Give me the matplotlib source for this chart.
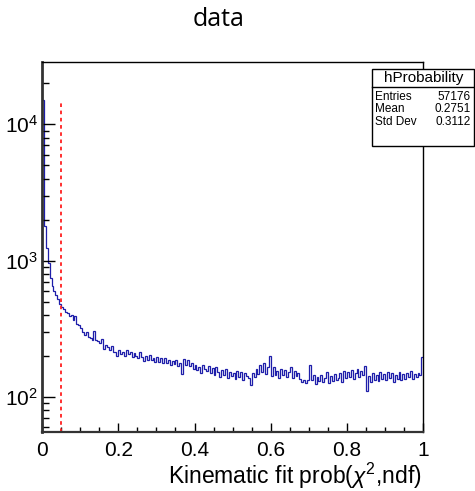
import numpy as np
import matplotlib
matplotlib.use("Agg")
import matplotlib.pyplot as plt
from matplotlib.ticker import LogLocator, LogFormatterMathtext, MultipleLocator
from matplotlib.patches import Rectangle

# ---- data (200 bins over [0, 1]) ----
x_min, x_max, n_bins = 0.0, 1.0, 200
counts = [
    15000, 1800, 1240, 960, 740, 650, 600, 560, 520, 480,
    455, 440, 420, 410, 395, 400, 365, 390, 345, 335,
    320, 300, 285, 300, 275, 272, 262, 305, 262, 258,
    250, 266, 225, 242, 232, 222, 236, 212, 214, 200,
    222, 205, 215, 198, 220, 206, 212, 196, 210, 200,
    192, 214, 196, 182, 198, 188, 204, 186, 194, 180,
    196, 180, 192, 176, 194, 178, 186, 170, 184, 174,
    188, 168, 178, 148, 190, 172, 186, 168, 176, 160,
    170, 158, 166, 150, 172, 160, 155, 168, 150, 162,
    145, 166, 152, 140, 158, 146, 160, 138, 152, 142,
    150, 136, 156, 140, 152, 134, 150, 142, 138, 122,
    150, 140, 160, 148, 170, 152, 178, 148, 165, 200,
    142, 165, 146, 155, 138, 160, 144, 158, 140, 152,
    166, 138, 156, 142, 150, 136, 128, 134, 126, 132,
    172, 132, 145, 124, 140, 130, 144, 128, 138, 152,
    126, 142, 130, 148, 132, 138, 150, 128, 156, 138,
    152, 140, 158, 136, 150, 160, 140, 154, 144, 168,
    110, 142, 128, 150, 134, 146, 130, 152, 136, 148,
    134, 152, 138, 150, 128, 146, 136, 152, 132, 148,
    136, 150, 140, 154, 136, 148, 140, 150, 146, 196,
]
cut_value = 0.05
title = "data"
xlabel = r"Kinematic fit prob($\chi^{2}$,ndf)"
stats_name = "hProbability"
stats_rows = [("Entries", "57176"), ("Mean", "0.2751"), ("Std Dev", "0.3112")]
x_ticks = [0, 0.2, 0.4, 0.6, 0.8, 1]
x_tick_labels = ["0", "0.2", "0.4", "0.6", "0.8", "1"]
y_limits = (55, 28500)

plt.rcParams["font.family"] = ["Liberation Sans", "DejaVu Sans"]
plt.rcParams["mathtext.fontset"] = "custom"
plt.rcParams["mathtext.rm"] = "Liberation Sans"
plt.rcParams["mathtext.it"] = "Liberation Sans:italic"

W, H = 475, 491
fig = plt.figure(figsize=(W / 100, H / 100), dpi=100)
ax = fig.add_axes([42 / W, 1 - 432.3 / H, (423.3 - 42) / W, (432.3 - 62.3) / H])

edges = np.linspace(x_min, x_max, n_bins + 1)
vals = np.array(counts, dtype=float)
ax.stairs(vals, edges, baseline=None, color="#1e1eaa", lw=0.9)
ax.vlines(cut_value, y_limits[0], vals.max(), colors="#ff2020",
          linestyles=(0, (2, 2)), lw=1.3)

ax.set_yscale("log")
ax.set_xlim(x_min, x_max)
ax.set_ylim(*y_limits)
ax.yaxis.set_major_locator(LogLocator(base=10))
ax.yaxis.set_major_formatter(LogFormatterMathtext())
ax.yaxis.set_minor_locator(LogLocator(base=10, subs=np.arange(2, 10)))
ax.yaxis.set_minor_formatter(plt.NullFormatter())
ax.set_xticks(x_ticks)
ax.set_xticklabels(x_tick_labels)
ax.xaxis.set_minor_locator(MultipleLocator(0.05))

ax.tick_params(which="both", direction="in", top=False, right=False)
ax.tick_params(axis="x", which="major", length=6.5, width=1.0, labelsize=15, pad=6)
ax.tick_params(axis="x", which="minor", length=3.6, width=1.0)
ax.tick_params(axis="y", which="major", length=9.5, width=1.0, labelsize=15, pad=3)
ax.tick_params(axis="y", which="minor", length=4.7, width=1.0)

for s in ("top", "right"):
    ax.spines[s].set_linewidth(1.0)
    ax.spines[s].set_color("black")
ax.spines["left"].set_linewidth(2.0)
ax.spines["left"].set_color("#333333")
ax.spines["bottom"].set_linewidth(1.6)
ax.spines["bottom"].set_color("#333333")

fig.text(219 / W, 1 - 20 / H, title, ha="center", va="center",
         family=["Open Sans", "DejaVu Sans"], fontsize=18)
fig.text(422 / W, 1 - 476 / H, xlabel, ha="right", va="center", fontsize=16.5)

# stats box
bx0, bx1 = 372.3 / W, 474.5 / W
by_top, by_bot = 1 - 69.3 / H, 1 - 145.7 / H
fig.patches.append(Rectangle((bx0, by_bot), bx1 - bx0, by_top - by_bot,
                             transform=fig.transFigure, facecolor="white",
                             edgecolor="black", lw=1.0, zorder=5))
sep = 1 - 86.7 / H
fig.add_artist(plt.Line2D([bx0, bx1], [sep, sep], transform=fig.transFigure,
                          color="black", lw=1.0, zorder=6))
fig.text((bx0 + bx1) / 2, 1 - 78 / H, stats_name, ha="center", va="center",
         fontsize=11, zorder=7)
row_y = [96.7, 109.0, 121.7]
for (lab, val), yy in zip(stats_rows, row_y):
    fig.text(375 / W, 1 - yy / H, lab, ha="left", va="center", fontsize=8.5, zorder=7)
    fig.text(471 / W, 1 - yy / H, val, ha="right", va="center", fontsize=8.5, zorder=7)

fig.savefig("out.png", dpi=100)
